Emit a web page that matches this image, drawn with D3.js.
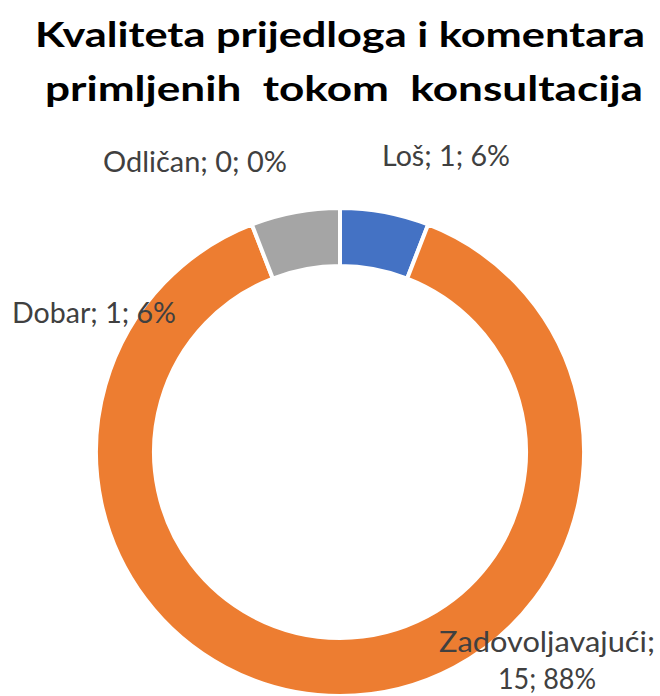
<!DOCTYPE html>
<html>
<head>
<meta charset="utf-8">
<script src="https://cdn.jsdelivr.net/npm/d3@7"></script>
<style>
  html, body { margin: 0; padding: 0; background: #fff; }
  svg { display: block; }
  text { white-space: pre; }
</style>
</head>
<body>
<script>
// ---- data ----
const categories = ["Loš", "Zadovoljavajući", "Dobar", "Odličan"];
const values = [1, 15, 1, 0];
const colors = ["#4472C4", "#ED7D31", "#A5A5A5", "#FFC000"];
const titleLines = ["Kvaliteta prijedloga i komentara", "primljenih  tokom  konsultacija"];

// ---- layout ----
const W = 660, H = 696;
const cx = 340, cy = 452, outerR = 244, innerR = 186;
const titleLayout = [
  { x: 35, y: 47, len: 610 },
  { x: 45, y: 101, len: 598 }
];
// label placement (center x, baseline y, widths) per category
const labelLayout = [
  { x: 446, y: 166, lines: 1, lens: [128] },
  { x: 547, y: 652, lines: 2, lens: [216, 98], dy: 37 },
  { x: 94, y: 323, lines: 1, lens: [164] },
  { x: 195, y: 172, lines: 1, lens: [184] }
];

const svg = d3.select("body").append("svg")
  .attr("width", W).attr("height", H);

// title
svg.append("g").selectAll("text")
  .data(titleLines)
  .join("text")
  .attr("x", (d, i) => titleLayout[i].x)
  .attr("y", (d, i) => titleLayout[i].y)
  .attr("textLength", (d, i) => titleLayout[i].len)
  .attr("lengthAdjust", "spacingAndGlyphs")
  .attr("font-family", "Lato, 'Open Sans', sans-serif")
  .attr("font-weight", 700)
  .attr("font-size", 35)
  .attr("fill", "#000")
  .text(d => d);

// donut
const total = d3.sum(values);
const pie = d3.pie().sort(null).value(d => d.value);
const data = categories.map((c, i) => ({ cat: c, value: values[i], color: colors[i] }));
const arcs = pie(data);
const arc = d3.arc().innerRadius(innerR).outerRadius(outerR);

const g = svg.append("g").attr("transform", `translate(${cx},${cy})`);
g.selectAll("path")
  .data(arcs.filter(d => d.data.value > 0))
  .join("path")
  .attr("d", arc)
  .attr("fill", d => d.data.color)
  .attr("stroke", "#fff")
  .attr("stroke-width", 4)
  .attr("stroke-linejoin", "miter");

// labels
const fmtLabel = (d) => {
  const pct = Math.round(d.value / total * 100) + "%";
  return [d.cat, d.value, pct];
};
const lg = svg.append("g")
  .attr("font-family", "Lato, 'Open Sans', sans-serif")
  .attr("font-size", 29)
  .attr("fill", "#404040")
  .attr("text-anchor", "middle");

arcs.forEach((a, i) => {
  const L = labelLayout[i];
  const parts = fmtLabel(a.data);
  let lines;
  if (L.lines === 2) {
    lines = [parts[0] + ";", parts[1] + "; " + parts[2]];
  } else {
    lines = [parts.join("; ")];
  }
  lines.forEach((t, j) => {
    lg.append("text")
      .attr("x", L.x)
      .attr("y", L.y + j * (L.dy || 0))
      .attr("textLength", L.lens[j])
      .attr("lengthAdjust", "spacingAndGlyphs")
      .text(t);
  });
});
</script>
</body>
</html>
